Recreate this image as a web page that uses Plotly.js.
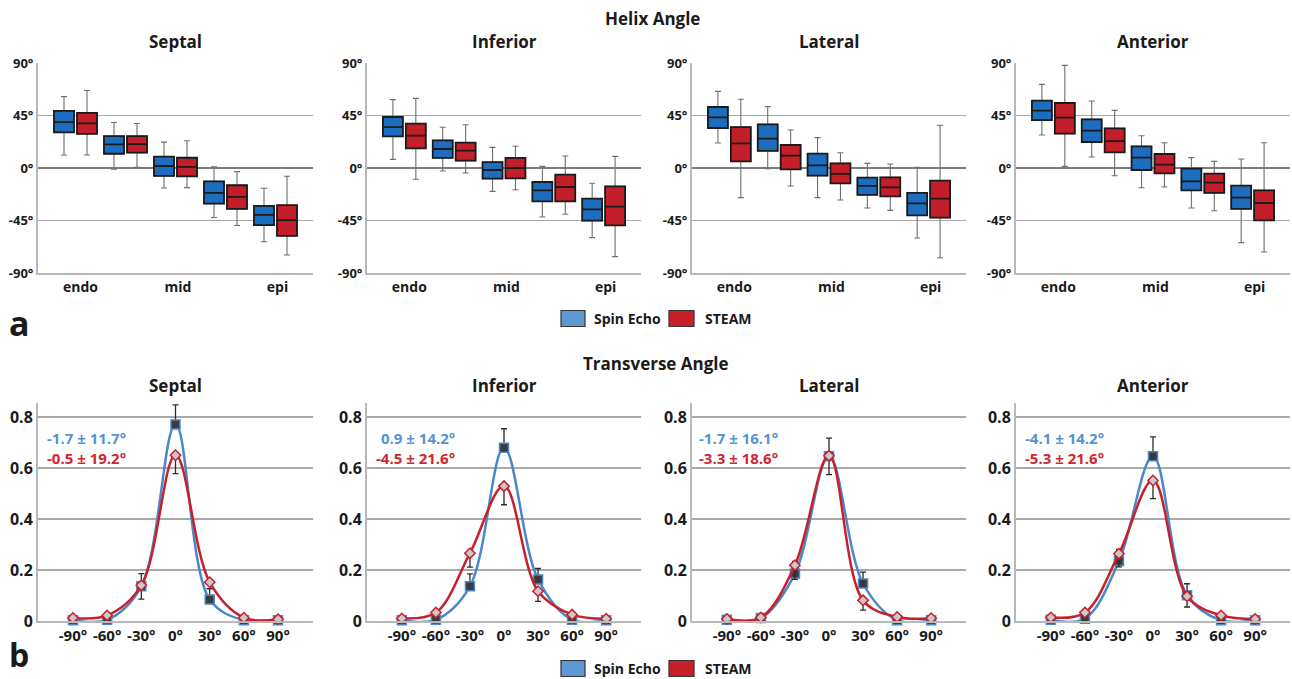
<!DOCTYPE html>
<html>
<head>
<meta charset="utf-8">
<script src="https://cdn.plot.ly/plotly-3.0.1.min.js"></script>
<style>html,body{margin:0;padding:0;background:#fff;}#chart{width:1292px;height:679px;}</style>
</head>
<body>
<div id="chart"></div>
<script>
// ---------- DATA ----------
const panelNames = ['Septal', 'Inferior', 'Lateral', 'Anterior'];
const layerPositions = [1, 2, 3, 4, 5];
const layerTickVals = [1.1, 3.05, 5.04];
const layerTickText = ['endo', 'mid', 'epi'];
const helixTickVals = [-90, -45, 0, 45, 90];
const helixTickText = ['-90°', '-45°', '0°', '45°', '90°'];

// Helix angle box stats per layer: [lower whisker, q1, median, q3, upper whisker]
const helixSeptalSE   = [[11.1, 30.5, 39.3, 49.0, 61.2], [-1.1, 12.2, 20.2, 27.3, 39.0], [-17.1, -6.8, 1.7, 9.7, 22.2], [-42.4, -30.5, -21.4, -11.4, 1.1], [-63.2, -49.0, -40.2, -32.5, -17.4]];
const helixSeptalST   = [[11.1, 29.3, 38.2, 47.3, 66.4], [0.6, 13.1, 20.5, 27.3, 38.2], [-16.8, -7.1, 0.9, 8.8, 23.4], [-49.3, -35.0, -24.8, -14.8, -3.1], [-74.6, -58.1, -44.7, -31.9, -7.1]];
const helixInferiorSE = [[7.4, 27.1, 35.1, 43.7, 58.6], [-2.6, 8.6, 16.3, 23.7, 34.9], [-20.0, -9.1, -1.7, 5.1, 17.7], [-42.0, -28.6, -19.1, -12.0, 1.4], [-59.7, -45.1, -35.4, -26.3, -13.1]];
const helixInferiorST = [[-9.7, 16.9, 27.7, 38.0, 59.7], [-4.3, 6.3, 14.9, 21.7, 37.1], [-18.6, -8.9, 0.0, 8.6, 18.6], [-39.7, -28.6, -16.3, -5.7, 10.3], [-76.0, -49.1, -33.1, -15.7, 10.0]];
const helixLateralSE  = [[21.4, 34.3, 43.4, 52.3, 65.7], [-0.6, 14.6, 25.1, 37.4, 52.6], [-25.4, -6.6, 2.3, 12.3, 26.0], [-34.3, -23.1, -15.4, -8.3, 4.0], [-60.0, -40.6, -30.3, -21.4, 0.6]];
const helixLateralST  = [[-25.4, 5.7, 21.1, 35.1, 58.9], [-15.4, -1.1, 10.6, 19.7, 32.6], [-27.4, -13.1, -5.1, 4.0, 13.1], [-36.3, -24.3, -16.6, -8.0, 3.4], [-76.9, -42.6, -26.3, -10.9, 36.6]];
const helixAnteriorSE = [[28.3, 41.1, 49.1, 57.7, 71.7], [9.4, 22.3, 32.0, 41.7, 57.4], [-16.9, -1.7, 8.9, 18.6, 27.7], [-34.3, -19.1, -11.4, -0.6, 8.9], [-64.0, -35.1, -25.4, -15.1, 7.7]];
const helixAnteriorST = [[1.4, 29.4, 43.1, 55.7, 88.0], [-6.6, 13.4, 23.1, 34.0, 49.4], [-16.3, -4.6, 2.9, 12.0, 21.7], [-36.6, -21.4, -12.6, -4.9, 5.7], [-72.0, -44.9, -30.0, -19.1, 21.7]];

// Transverse angle distributions
const transAngles = [-90, -60, -30, 0, 30, 60, 90];
const transTickText = ['-90°', '-60°', '-30°', '0°', '30°', '60°', '90°'];
const transYTicks = [0, 0.2, 0.4, 0.6, 0.8];
const transYTickText = ['0', '0.2', '0.4', '0.6', '0.8'];
const transSeptalSE   = [0.003, 0.005, 0.136, 0.771, 0.084, 0.003, 0.003];
const transSeptalST   = [0.012, 0.022, 0.140, 0.650, 0.152, 0.013, 0.007];
const transInferiorSE = [0.003, 0.005, 0.136, 0.679, 0.163, 0.005, 0.003];
const transInferiorST = [0.010, 0.033, 0.266, 0.529, 0.117, 0.025, 0.009];
const transLateralSE  = [0.005, 0.012, 0.186, 0.646, 0.147, 0.003, 0.003];
const transLateralST  = [0.008, 0.014, 0.219, 0.648, 0.081, 0.016, 0.011];
const transAnteriorSE = [0.005, 0.009, 0.235, 0.646, 0.101, 0.003, 0.003];
const transAnteriorST = [0.014, 0.033, 0.264, 0.551, 0.097, 0.022, 0.008];
// error bars (SE shown upward, STEAM shown downward)
const errSeptalSE   = [0, 0, 0.050, 0.077, 0.043, 0, 0];
const errSeptalST   = [0, 0, 0.054, 0.072, 0.025, 0, 0];
const errInferiorSE = [0, 0, 0.049, 0.075, 0.043, 0, 0];
const errInferiorST = [0, 0, 0.055, 0.073, 0.040, 0, 0];
const errLateralSE  = [0, 0, 0.048, 0.071, 0.045, 0, 0];
const errLateralST  = [0, 0, 0.056, 0.074, 0.038, 0, 0];
const errAnteriorSE = [0, 0, 0.046, 0.076, 0.045, 0, 0];
const errAnteriorST = [0, 0, 0.052, 0.071, 0.042, 0, 0];
const statsSE = ['-1.7 ± 11.7°', '0.9 ± 14.2°', '-1.7 ± 16.1°', '-4.1 ± 14.2°'];
const statsST = ['-0.5 ± 19.2°', '-4.5 ± 21.6°', '-3.3 ± 18.6°', '-5.3 ± 21.6°'];
const seriesNames = ['Spin Echo', 'STEAM'];

// ---------- LAYOUT HELPERS ----------
const W = 1292, H = 679;
const fx = p => p / W;
const fy = p => 1 - p / H;
const FONT = '"Open Sans", Lato, "DejaVu Sans", sans-serif';
const colX = [[38, 313], [367, 641], [692, 966], [1016, 1290]];
const topY = [63, 273], botY = [403, 621];
const statRight = [128, 457, 780, 1106];

const boxFill = ['#1c6dbd', '#c21f2a'];
const legendFill = ['#5f97d3', '#c8202a'];
const lineCol = ['#4a88c9', '#c8202b'];

const helixSE = [helixSeptalSE, helixInferiorSE, helixLateralSE, helixAnteriorSE];
const helixST = [helixSeptalST, helixInferiorST, helixLateralST, helixAnteriorST];
const transSE = [transSeptalSE, transInferiorSE, transLateralSE, transAnteriorSE];
const transST = [transSeptalST, transInferiorST, transLateralST, transAnteriorST];
const errSE = [errSeptalSE, errInferiorSE, errLateralSE, errAnteriorSE];
const errST = [errSeptalST, errInferiorST, errLateralST, errAnteriorST];

const col = (arr, i) => arr.map(r => r[i]);
const bold = (size, color) => ({family: FONT, size: size, color: color || '#1a1a1a', weight: 'bold'});
const traces = [];
const layout = {
  width: W, height: H,
  margin: {l: 0, r: 0, t: 0, b: 0},
  paper_bgcolor: '#fff', plot_bgcolor: '#fff',
  showlegend: false,
  boxmode: 'group', boxgap: 0.08, boxgroupgap: 0.13,
  font: {family: FONT, color: '#1a1a1a', weight: 'bold'},
  annotations: [], shapes: []
};

for (let p = 0; p < 4; p++) {
  // ----- top row: helix angle boxes -----
  const n = p + 1;
  const xa = 'x' + (n === 1 ? '' : n), ya = 'y' + (n === 1 ? '' : n);
  [helixSE[p], helixST[p]].forEach((d, s) => {
    traces.push({
      type: 'box', xaxis: xa, yaxis: ya, x: layerPositions, offsetgroup: 'g' + s,
      lowerfence: col(d, 0), q1: col(d, 1), median: col(d, 2), q3: col(d, 3), upperfence: col(d, 4),
      fillcolor: 'rgba(0,0,0,0)', line: {color: '#6e6e6e', width: 1.1},
      whiskerwidth: 0.3, boxpoints: false, hoverinfo: 'skip', name: seriesNames[s]
    });
  });
  [helixSE[p], helixST[p]].forEach((d, s) => {
    traces.push({
      type: 'box', xaxis: xa, yaxis: ya, x: layerPositions, offsetgroup: 'g' + s,
      lowerfence: col(d, 1), q1: col(d, 1), median: col(d, 2), q3: col(d, 3), upperfence: col(d, 3),
      fillcolor: boxFill[s], line: {color: '#1a1a1a', width: 1.8},
      whiskerwidth: 0, boxpoints: false, hoverinfo: 'skip', name: seriesNames[s]
    });
  });
  layout['xaxis' + (n === 1 ? '' : n)] = {
    domain: [fx(colX[p][0]), fx(colX[p][1])], anchor: ya, range: [0.25, 5.75],
    tickmode: 'array', tickvals: layerTickVals, ticktext: layerTickText,
    showgrid: false, zeroline: false, showline: true, linecolor: '#b8b8b8', linewidth: 2,
    ticks: '', tickfont: bold(14), fixedrange: true
  };
  layout['yaxis' + (n === 1 ? '' : n)] = {
    domain: [fy(topY[1]), fy(topY[0])], anchor: xa, range: [-90, 90],
    tickmode: 'array', tickvals: helixTickVals, ticktext: helixTickText,
    showgrid: true, gridcolor: '#a9a9a9', gridwidth: 1.2,
    zeroline: true, zerolinecolor: '#7c7c7c', zerolinewidth: 1.5,
    showline: true, linecolor: '#b8b8b8', linewidth: 2, ticks: '', tickfont: bold(13), fixedrange: true
  };
  layout.annotations.push({
    xref: 'paper', yref: 'paper', x: fx((colX[p][0] + colX[p][1]) / 2), y: fy(41),
    text: panelNames[p], showarrow: false, xanchor: 'center', yanchor: 'middle', font: bold(17)
  });

  // ----- bottom row: transverse angle -----
  const m = p + 5;
  const xb = 'x' + m, yb = 'y' + m;
  [[transSE[p], errSE[p], 'square', '#3b3b3b', 9], [transST[p], errST[p], 'diamond', '#c9c9c9', 8]].forEach((d, s) => {
    traces.push({
      type: 'scatter', mode: 'lines+markers', xaxis: xb, yaxis: yb,
      x: transAngles, y: d[0], name: seriesNames[s],
      line: {color: lineCol[s], width: 2.5, shape: 'spline', smoothing: 1},
      marker: {symbol: d[2], color: d[3], size: d[4], line: {color: lineCol[s], width: 1.5}},
      error_y: s === 0
        ? {type: 'data', symmetric: false, array: d[1], arrayminus: d[1].map(() => 0), color: '#2a2a2a', thickness: 1.3, width: 3}
        : {type: 'data', symmetric: false, array: d[1].map(() => 0), arrayminus: d[1], color: '#2a2a2a', thickness: 1.3, width: 3},
      hoverinfo: 'skip', cliponaxis: false
    });
  });
  layout['xaxis' + m] = {
    domain: [fx(colX[p][0]), fx(colX[p][1])], anchor: yb, range: [-120.7, 120.7],
    tickmode: 'array', tickvals: transAngles, ticktext: transTickText,
    showgrid: false, zeroline: false, showline: true, linecolor: '#b8b8b8', linewidth: 2,
    ticks: '', tickfont: bold(15), fixedrange: true
  };
  layout['yaxis' + m] = {
    domain: [fy(botY[1]), fy(botY[0])], anchor: xb, range: [0, 0.855],
    tickmode: 'array', tickvals: transYTicks, ticktext: transYTickText,
    showgrid: true, gridcolor: '#a9a9a9', gridwidth: 1.2, zeroline: false,
    showline: true, linecolor: '#b8b8b8', linewidth: 2, ticks: '',
    tickfont: bold(16), fixedrange: true
  };
  layout.annotations.push({
    xref: 'paper', yref: 'paper', x: fx((colX[p][0] + colX[p][1]) / 2), y: fy(385),
    text: panelNames[p], showarrow: false, xanchor: 'center', yanchor: 'middle', font: bold(17)
  });
  layout.annotations.push({
    xref: 'paper', yref: 'paper', x: fx(statRight[p]), y: fy(437.5),
    text: statsSE[p], showarrow: false, xanchor: 'right', yanchor: 'middle', font: bold(15, '#5592d2')
  });
  layout.annotations.push({
    xref: 'paper', yref: 'paper', x: fx(statRight[p]), y: fy(457.5),
    text: statsST[p], showarrow: false, xanchor: 'right', yanchor: 'middle', font: bold(15, '#d0262e')
  });
}

// overall titles and panel letters
layout.annotations.push(
  {xref: 'paper', yref: 'paper', x: fx(652), y: fy(18), text: 'Helix Angle', showarrow: false,
   xanchor: 'center', yanchor: 'middle', font: bold(17)},
  {xref: 'paper', yref: 'paper', x: fx(656), y: fy(363), text: 'Transverse Angle', showarrow: false,
   xanchor: 'center', yanchor: 'middle', font: bold(17)},
  {xref: 'paper', yref: 'paper', x: fx(7), y: fy(323), text: 'a', showarrow: false,
   xanchor: 'left', yanchor: 'middle', font: bold(34)},
  {xref: 'paper', yref: 'paper', x: fx(7), y: fy(678), text: 'b', showarrow: false,
   xanchor: 'left', yanchor: 'bottom', font: bold(32)}
);

// legends (one under each row)
[318.5, 668.5].forEach(cy => {
  const sq = [[561, 585], [669, 694]];
  const txt = [[592, seriesNames[0]], [703, seriesNames[1]]];
  for (let s = 0; s < 2; s++) {
    layout.shapes.push({type: 'rect', xref: 'paper', yref: 'paper',
      x0: fx(sq[s][0]), x1: fx(sq[s][1]), y0: fy(cy - 8), y1: fy(cy + 8),
      fillcolor: legendFill[s], line: {color: '#333', width: 1.2}});
    layout.annotations.push({xref: 'paper', yref: 'paper', x: fx(txt[s][0]), y: fy(cy),
      text: txt[s][1], showarrow: false, xanchor: 'left', yanchor: 'middle', font: bold(14)});
  }
});

Plotly.newPlot('chart', traces, layout, {staticPlot: true, displayModeBar: false});
</script>
</body>
</html>
